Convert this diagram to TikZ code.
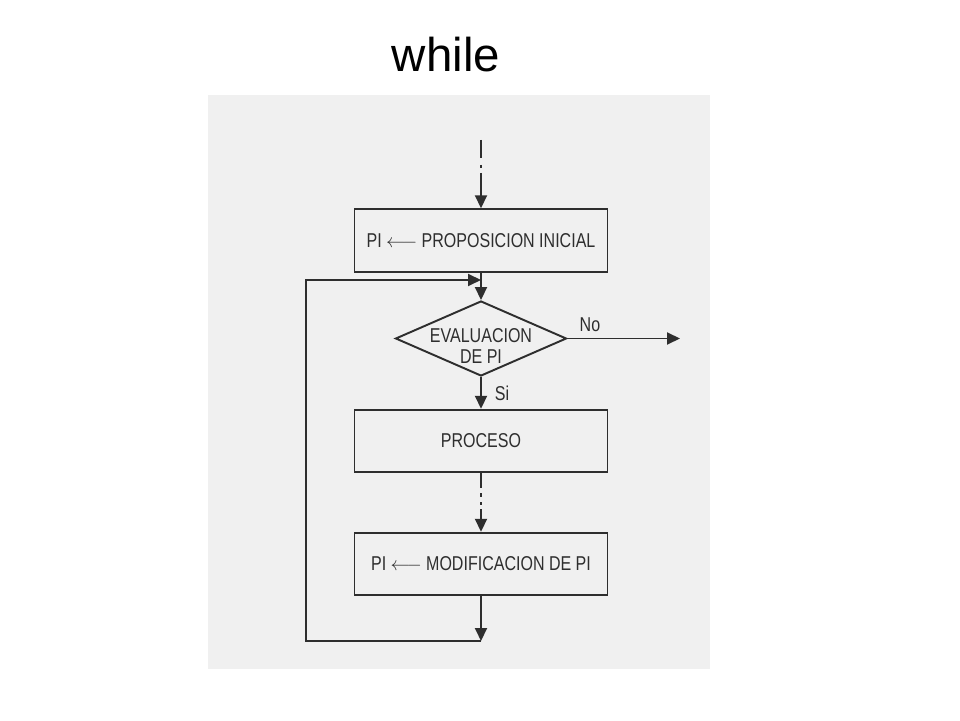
\documentclass[tikz,border=0pt]{standalone}
\usepackage{fontspec}
\setmainfont{Liberation Sans}
\newfontfamily\scanfont[FakeStretch=0.8]{Liberation Sans}
\usetikzlibrary{shapes.geometric,arrows.meta}
\definecolor{paper}{HTML}{F0F0F0}
\definecolor{ink}{HTML}{2E2E2E}
\tikzset{
    block/.style={draw=ink, line width=1.1pt, minimum width=5.06cm, minimum height=1.25cm, text=ink, font=\scanfont\fontsize{11.4}{12.5}\selectfont},
    decision/.style={draw=ink, line width=1.1pt, shape=diamond, minimum width=3.42cm, minimum height=1.5cm, inner sep=0pt},
    lbl/.style={text=ink, font=\scanfont\fontsize{11.4}{12.5}\selectfont},
    flow/.style={draw=ink, line width=1.1pt, -{Triangle[length=0.26cm,width=0.24cm]}}
}
\begin{document}
\begin{tikzpicture}
    \useasboundingbox (0,0) rectangle (19.2,14.4);
    \fill [paper] (4.16,1.02) rectangle (14.2,12.5);
    \node [anchor=base, font=\fontsize{27}{30}\selectfont] (title) at (8.92,12.96) {while};
        \coordinate (start) at (9.62,11.6);
        \node [block] (init) at (9.62,9.59) {PI $\longleftarrow$ PROPOSICION INICIAL};
        \node [decision] (eval) at (9.62,7.63) {};
        \node [lbl, align=center] (evaltext) at (9.62,7.48) {EVALUACION\\DE PI};
        \coordinate (exit) at (13.6,7.63);
        \node [block] (proc) at (9.62,5.58) {PROCESO};
        \node [block] (modif) at (9.62,3.12) {PI $\longleftarrow$ MODIFICACION DE PI};
        \coordinate (back) at (9.62,1.58);
        \coordinate (side) at (6.12,1.58);
        \coordinate (join) at (9.62,8.8);
        \draw [flow, dash pattern=on 0.36cm off 0.14cm on 0.06cm off 0.1cm on 2cm] (start) -- (init);
        \draw [flow] (init) -- (eval);
        \draw [flow] (eval) -- node [lbl, pos=0.2, above] {No} (exit);
        \draw [flow] (eval) -- node [lbl, right, xshift=4pt] {Si} (proc);
        \draw [flow, dash pattern=on 0.3cm off 0.1cm on 0.08cm off 0.1cm on 0.06cm off 0.08cm on 2cm] (proc) -- (modif);
        \draw [flow] (modif) -- (back);
        \draw [flow] (back) -- (side) |- (join);
\end{tikzpicture}
\end{document}
